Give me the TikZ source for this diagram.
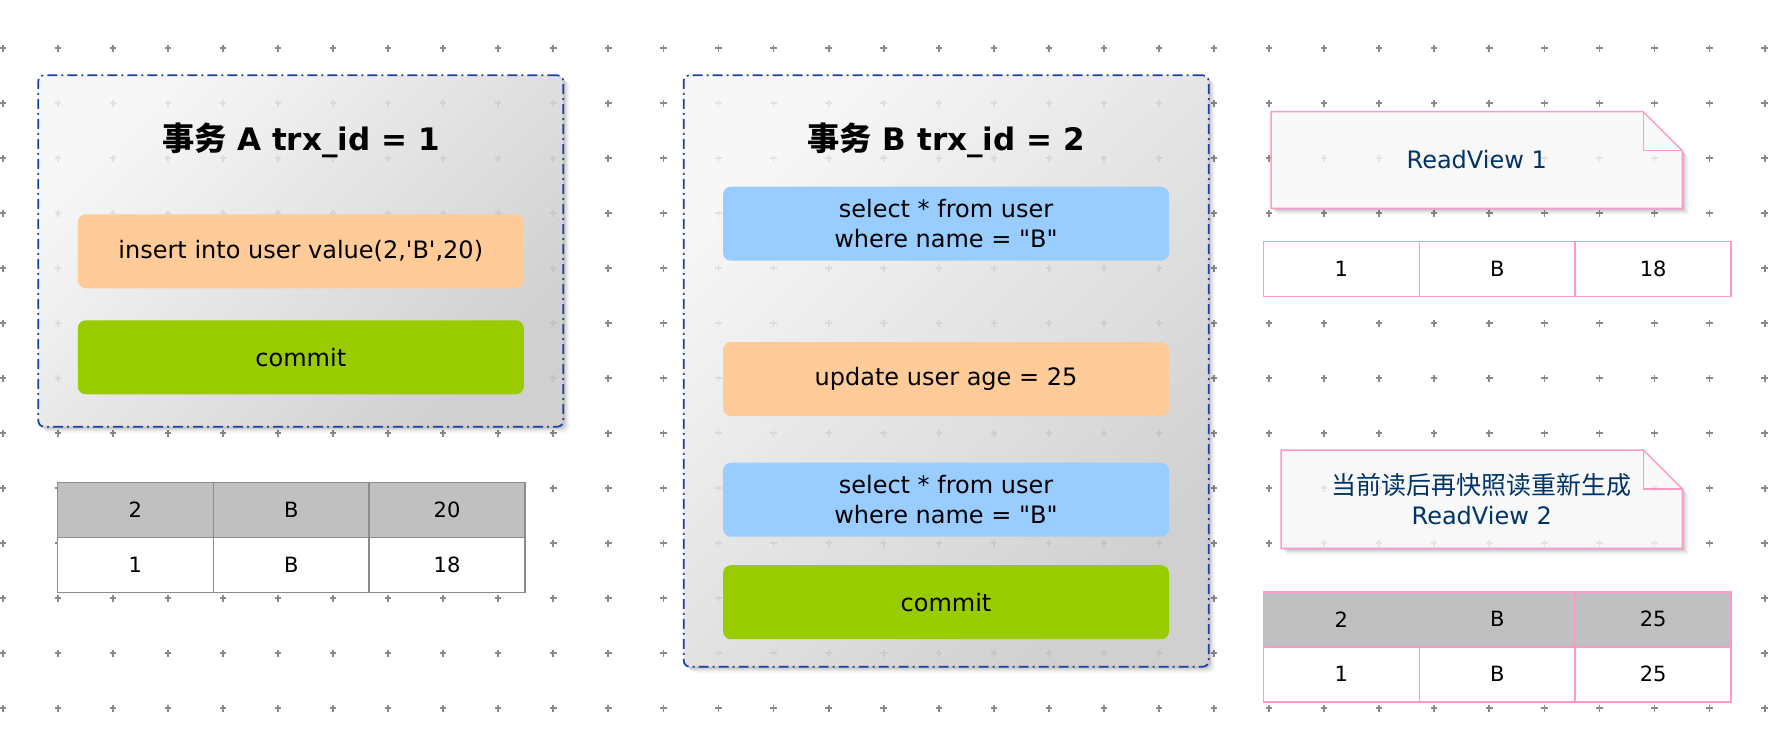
\documentclass[tikz,border=0pt]{standalone}
\usepackage{fontspec}
\setmainfont{DejaVu Sans}
\newfontfamily\cjk{Noto Sans CJK SC}[Scale=1.04]
\usetikzlibrary{shadows}

\definecolor{trxblue}{HTML}{1D3FA5}
\definecolor{trxtop}{HTML}{F7F7F7}
\definecolor{trxbottom}{HTML}{D0D0D0}
\definecolor{sqlorange}{HTML}{FFCC99}
\definecolor{sqlgreen}{HTML}{99CC00}
\definecolor{sqlblue}{HTML}{99CCFF}
\definecolor{rowgray}{HTML}{C0C0C0}
\definecolor{cellgray}{HTML}{8C8C8C}
\definecolor{viewpink}{HTML}{FF99CC}
\definecolor{viewnavy}{HTML}{003366}
\definecolor{notefill}{HTML}{F8F8F8}
\definecolor{dotgray}{HTML}{8A8A8A}

\newcommand{\plusgrid}{%
  \foreach \i in {0,...,32}
    \foreach \j in {0,...,12}
      \draw (2.7+55.06*\i-3.2, 48.3+55*\j) -- ++(6.4,0)
            (2.7+55.06*\i, 48.3+55*\j-3.2) -- ++(0,6.4);%
}

\begin{document}
\begin{tikzpicture}[x=1pt, y=-1pt,
    softshadow/.style={drop shadow={shadow xshift=2pt, shadow yshift=-2pt, opacity=.12, fill=black},
                       drop shadow={shadow xshift=4pt, shadow yshift=-4pt, opacity=.08, fill=black},
                       drop shadow={shadow xshift=6pt, shadow yshift=-6pt, opacity=.05, fill=black}},
    trxbox/.style={draw=trxblue, line width=1.7pt, dash pattern=on 10pt off 4pt on 2pt off 4pt,
                   rounded corners=6pt, top color=trxtop, bottom color=trxbottom, shading angle=45,
                   minimum width=525pt, inner sep=0pt, outer sep=0pt, softshadow},
    trxtitle/.style={font=\fontsize{31}{37}\selectfont\bfseries},
    stmt/.style={rounded corners=8pt, minimum width=446pt, minimum height=74pt, align=center,
                 inner sep=0pt, font=\fontsize{24}{30}\selectfont},
    cellA/.style={draw=cellgray, line width=1.5pt, minimum width=155.9pt, minimum height=55pt,
                  inner sep=0pt, outer sep=0pt, font=\fontsize{21}{25}\selectfont},
    cellview/.style={cellA, draw=viewpink},
    viewshape/.style={inner sep=0pt, outer sep=0pt},
    viewbox/.style={draw=viewpink, line width=1.5pt, fill=notefill, softshadow},
    foldline/.style={draw=viewpink, line width=1.5pt},
    viewlabel/.style={align=center, text=viewnavy, font=\fontsize{24}{30}\selectfont},
    gridplus/.style={dotgray, line width=1.8pt},
    gridfaint/.style={dotgray, draw opacity=.18, line width=1.8pt}
]
    \fill[white] (0,0) rectangle (1768,734);
    \useasboundingbox (0,0) rectangle (1768,734);

    % dotted background
    \begin{scope}[gridplus]
        \plusgrid
    \end{scope}

    % transactions
    \node[trxbox, minimum height=351.4pt] (trxA) at (300.8,251) {};
    \node[trxbox, minimum height=591.4pt] (trxB) at (946.2,371) {};

    % read views
    \node[viewshape, minimum width=411.3pt, minimum height=96.6pt] (view1) at (1476.7,160) {};
    \draw[viewbox] (view1.north west) -- ([xshift=-39pt]view1.north east) -- ([yshift=-39pt]view1.north east)
        -- (view1.south east) -- (view1.south west) -- cycle;
    \draw[foldline] ([xshift=-39pt]view1.north east) -- ([xshift=-39pt, yshift=-39pt]view1.north east)
        -- ([yshift=-39pt]view1.north east);

    \node[viewshape, minimum width=401.3pt, minimum height=98.3pt] (view2) at (1481.7,499.2) {};
    \draw[viewbox] (view2.north west) -- ([xshift=-39pt]view2.north east) -- ([yshift=-39pt]view2.north east)
        -- (view2.south east) -- (view2.south west) -- cycle;
    \draw[foldline] ([xshift=-39pt]view2.north east) -- ([xshift=-39pt, yshift=-39pt]view2.north east)
        -- ([yshift=-39pt]view2.north east);

    % grid seen through the boxes
    \begin{scope}[gridfaint]
        \clip (trxA.north west) rectangle (trxA.south east)
              (trxB.north west) rectangle (trxB.south east)
              (view1.north west) rectangle (view1.south east)
              (view2.north west) rectangle (view2.south east);
        \plusgrid
    \end{scope}

    \node[trxtitle] (titleA) at (300.8,140) {{\cjk 事务} A trx\_id = 1};
    \node[stmt, fill=sqlorange] (insertA) at (300.8,251.3) {insert into user value(2,\textquotesingle B\textquotesingle,20)};
    \node[stmt, fill=sqlgreen] (commitA) at (300.8,357.3) {commit};

    \node[trxtitle] (titleB) at (946.2,140) {{\cjk 事务} B trx\_id = 2};
    \node[stmt, fill=sqlblue] (selectB1) at (946,223.7) {select * from user\\where name = \textquotedbl B\textquotedbl};
    \node[stmt, fill=sqlorange] (updateB) at (946,379) {update user age = 25};
    \node[stmt, fill=sqlblue] (selectB2) at (946,499.7) {select * from user\\where name = \textquotedbl B\textquotedbl};
    \node[stmt, fill=sqlgreen] (commitB) at (946,602.2) {commit};

    \node[viewlabel] (view1text) at (view1) {ReadView 1};
    \node[viewlabel] (view2text) at (view2) {{\cjk 当前读后再快照读重新生成}\\ReadView 2};

    % rows after transaction A
    \node[cellA, fill=rowgray] (a11) at (135.3,509.8) {2};
    \node[cellA, fill=rowgray] (a12) at (291.2,509.8) {B};
    \node[cellA, fill=rowgray] (a13) at (447.1,509.8) {20};
    \node[cellA, fill=white] (a21) at (135.3,564.8) {1};
    \node[cellA, fill=white] (a22) at (291.2,564.8) {B};
    \node[cellA, fill=white] (a23) at (447.1,564.8) {18};

    % rows seen by ReadView 1
    \node[cellview, fill=white] (r11) at (1341.3,268.8) {1};
    \node[cellview, fill=white] (r12) at (1497.2,268.8) {B};
    \node[cellview, fill=white] (r13) at (1653.1,268.8) {18};

    % rows seen by ReadView 2
    \node[cellview, fill=rowgray] (s11) at (1341.3,619.3) {2};
    \node[cellview, fill=rowgray] (s12) at (1497.2,619.3) {B};
    \node[cellview, fill=rowgray] (s13) at (1653.1,619.3) {25};
    \node[cellview, fill=white] (s21) at (1341.3,674.3) {1};
    \node[cellview, fill=white] (s22) at (1497.2,674.3) {B};
    \node[cellview, fill=white] (s23) at (1653.1,674.3) {25};
\end{tikzpicture}
\end{document}
